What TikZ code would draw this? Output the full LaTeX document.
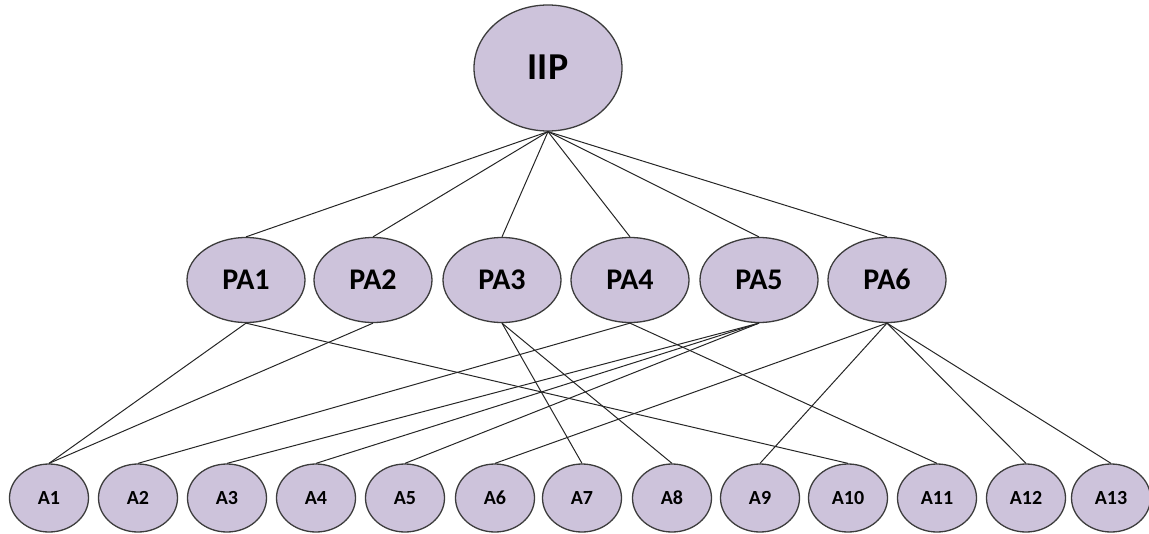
\documentclass[tikz,border=0pt]{standalone}
\usepackage{fontspec}
\setmainfont{Carlito}
\usetikzlibrary{shapes.geometric}
\definecolor{nodefill}{RGB}{205,195,219}
\definecolor{nodeline}{RGB}{60,60,60}
\tikzset{
  el/.style={ellipse, draw=nodeline, fill=nodefill, line width=1.3pt, inner sep=0pt, text depth=0pt},
  top/.style={el, minimum width=148pt, minimum height=126pt, text height=22pt, font=\bfseries\fontsize{38}{40}\selectfont},
  mid/.style={el, minimum width=118pt, minimum height=85pt, text height=19pt, font=\bfseries\fontsize{30}{32}\selectfont},
  leaf/.style={el, minimum width=79pt, minimum height=68pt, text height=12.8pt, font=\bfseries\fontsize{20}{22}\selectfont},
  link/.style={draw=black!85, line width=1pt}
}
\begin{document}
\begin{tikzpicture}[x=1pt,y=-1pt]
\useasboundingbox (0,0) rectangle (1149,533);
\node[top] (IIP) at (548,68) {IIP};
\foreach \i/\x in {1/246,2/373,3/502,4/630,5/759,6/887}
  \node[mid] (PA\i) at (\x,280) {PA\i};
\foreach \i/\x in {1/49,2/138,3/227,4/316,5/405,6/495,7/582,8/672,9/760,10/848,11/937,12/1026,13/1111}
  \node[leaf] (A\i) at (\x,498) {A\i};
\foreach \i in {1,...,6}
  \draw[link] (IIP.south) -- (PA\i.north);
\foreach \p/\a in {1/1,1/10,2/1,3/7,3/8,4/2,4/11,5/3,5/4,5/5,6/6,6/9,6/12,6/13}
  \draw[link] (PA\p.south) -- (A\a.north);
\end{tikzpicture}
\end{document}
